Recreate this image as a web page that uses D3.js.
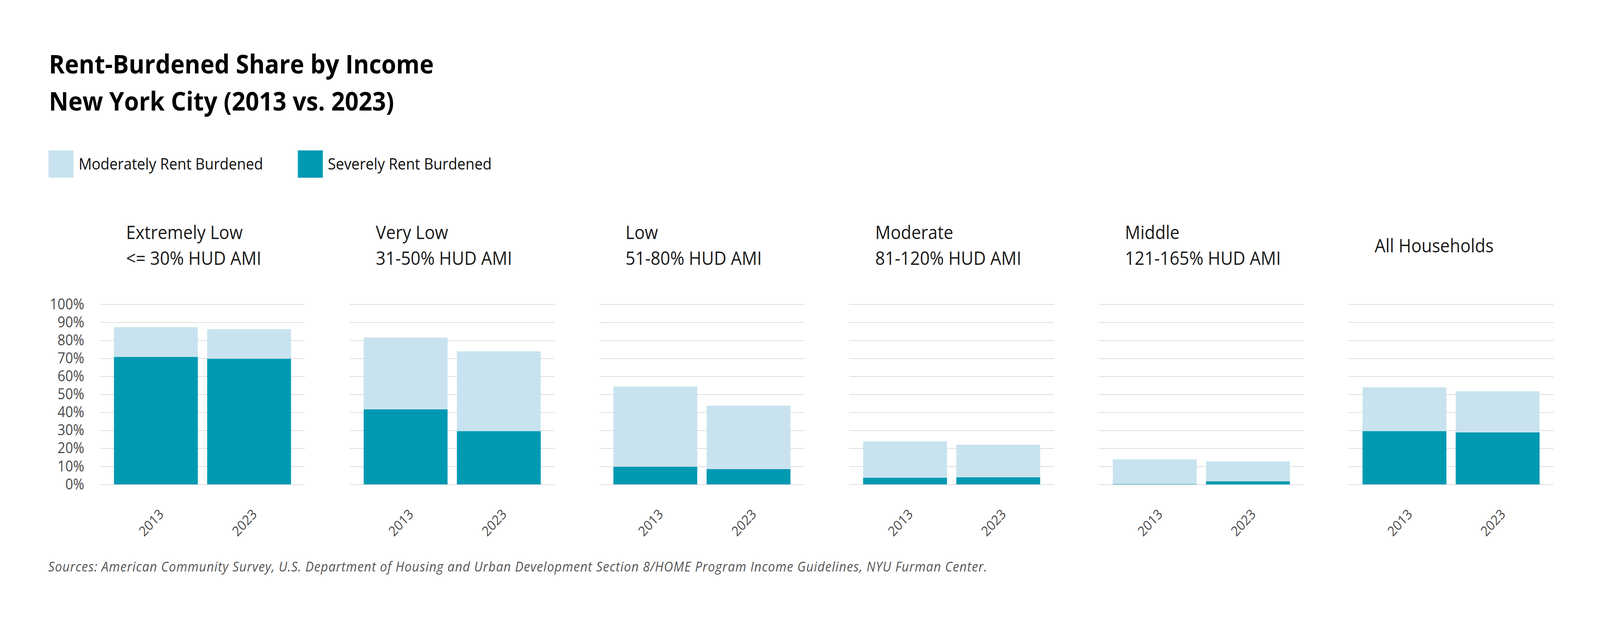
<!DOCTYPE html>
<html>
<head>
<meta charset="utf-8">
<script src="https://cdn.jsdelivr.net/npm/d3@7"></script>
<style>
  html, body { margin: 0; padding: 0; background: #fff; overflow: hidden; }
  svg { display: block; }
  text { font-family: 'Open Sans', Roboto, sans-serif; }
</style>
</head>
<body>
<div id="container"></div>
<script>
// data
const groups = ['Extremely Low', 'Very Low', 'Low', 'Moderate', 'Middle', 'All Households'];
const subtitles = ['<= 30% HUD AMI', '31-50% HUD AMI', '51-80% HUD AMI', '81-120% HUD AMI', '121-165% HUD AMI', ''];
const years = ['2013', '2023'];
const severe2013 = [70.8, 41.7, 9.8, 3.7, 0.2, 29.6];
const severe2023 = [69.8, 29.6, 8.5, 3.9, 1.7, 28.9];
const moderate2013 = [16.5, 39.8, 44.5, 20.2, 13.7, 24.3];
const moderate2023 = [16.4, 44.3, 35.2, 18.1, 11.1, 22.8];
const seriesNames = ['Severely Rent Burdened', 'Moderately Rent Burdened'];
const legendNames = ['Moderately Rent Burdened', 'Severely Rent Burdened'];
const yTicks = [0, 10, 20, 30, 40, 50, 60, 70, 80, 90, 100];
const sourceText = 'Sources: American Community Survey, U.S. Department of Housing and Urban Development Section 8/HOME Program Income Guidelines, NYU Furman Center.';

const width = 4480;
const height = 1600;
const plotTop = 779;
const plotBottom = 1240;

const colors = {
  'Severely Rent Burdened': '#0099b2',
  'Moderately Rent Burdened': '#c8e3ef'
};

// stretch to whatever window we get, so the layout keeps its proportions
const svg = d3
  .select('#container')
  .append('svg')
  .attr('viewBox', `0 0 ${width} ${height}`)
  .attr('preserveAspectRatio', 'none')
  .style('width', '100vw')
  .style('height', '100vh');

svg.append('rect').attr('width', width).attr('height', height).attr('fill', '#fff');

// Title
const title = svg.append('g').attr('font-weight', 700).attr('font-size', 67).attr('fill', '#000');
title.append('text').attr('x', 137).attr('y', 188).text('Rent-Burdened Share by Income');
title.append('text').attr('x', 137).attr('y', 283).text('New York City (2013 vs. 2023)');

// Legend
const legend = svg
  .append('g')
  .selectAll('g')
  .data(legendNames)
  .join('g')
  .attr('transform', (d, i) => `translate(${136 + i * 698},385)`);

legend.append('rect').attr('width', 70).attr('height', 70).attr('fill', d => colors[d]);
legend
  .append('text')
  .attr('x', 84)
  .attr('y', 49)
  .attr('font-size', 41)
  .attr('fill', '#111')
  .text(d => d);

// Scales
const panelX = d3
  .scaleBand()
  .domain(groups)
  .range([280, 4350])
  .paddingInner(0.179);

const barX = d3
  .scaleBand()
  .domain(years)
  .range([0, panelX.bandwidth()])
  .paddingInner(0.1)
  .paddingOuter(0.15);

const y = d3.scaleLinear().domain([0, 100]).range([plotBottom, plotTop]);

// rows for the stack: one per group and year
const rows = [];
groups.forEach((g, i) => {
  rows.push({ group: g, year: '2013', 'Severely Rent Burdened': severe2013[i], 'Moderately Rent Burdened': moderate2013[i] });
  rows.push({ group: g, year: '2023', 'Severely Rent Burdened': severe2023[i], 'Moderately Rent Burdened': moderate2023[i] });
});

const stacked = d3.stack().keys(seriesNames)(rows);

const panels = svg
  .selectAll('g.panel')
  .data(groups)
  .join('g')
  .attr('class', 'panel')
  .attr('transform', d => `translate(${panelX(d)},0)`);

// Grid lines
panels
  .append('g')
  .call(
    d3.axisLeft(y)
      .tickValues(yTicks)
      .tickSize(-panelX.bandwidth())
      .tickFormat('')
  )
  .call(g => g.select('.domain').remove())
  .call(g => g.selectAll('line').attr('stroke', '#d2d2d2').attr('stroke-width', 1.5));

// Panel titles
panels.each(function (d, i) {
  const t = d3
    .select(this)
    .append('text')
    .attr('x', 73)
    .attr('font-size', 48)
    .attr('fill', '#1b1b1b');
  if (subtitles[i]) {
    t.append('tspan').attr('x', 73).attr('y', 612).text(d);
    t.append('tspan').attr('x', 73).attr('y', 678).text(subtitles[i]);
  } else {
    t.attr('y', 646).text(d);
  }
});

// Bars
stacked.forEach(layer => {
  panels.each(function (g) {
    d3.select(this)
      .append('g')
      .attr('fill', colors[layer.key])
      .selectAll('rect')
      .data(layer.filter(d => d.data.group === g))
      .join('rect')
      .attr('x', d => barX(d.data.year))
      .attr('y', d => y(d[1]))
      .attr('width', barX.bandwidth())
      .attr('height', d => y(d[0]) - y(d[1]));
  });
});

// X axis labels
panels
  .append('g')
  .attr('transform', `translate(0,${plotBottom})`)
  .call(d3.axisBottom(barX).tickSize(0))
  .call(g => g.select('.domain').remove())
  .call(g =>
    g
      .selectAll('text')
      .attr('y', 0)
      .attr('dy', '0.35em')
      .attr('text-anchor', 'middle')
      .attr('transform', 'translate(-13,98) rotate(-45)')
      .attr('font-size', 35)
      .attr('font-family', "'Open Sans', sans-serif")
      .attr('fill', '#4a4a4a')
  );

// Y axis labels, first panel only
svg
  .append('g')
  .attr('transform', `translate(${panelX(groups[0])},0)`)
  .call(
    d3.axisLeft(y)
      .tickValues(yTicks)
      .tickSize(0)
      .tickPadding(44)
      .tickFormat(d => `${d}%`)
  )
  .call(g => g.select('.domain').remove())
  .call(g =>
    g
      .selectAll('text')
      .attr('font-size', 38)
      .attr('font-family', "'Open Sans', sans-serif")
      .attr('fill', '#4a4a4a')
  );

// Sources
svg
  .append('text')
  .attr('x', 135)
  .attr('y', 1463)
  .attr('font-size', 35)
  .attr('letter-spacing', 1.3)
  .attr('font-style', 'italic')
  .attr('fill', '#555')
  .text(sourceText);
</script>
</body>
</html>
